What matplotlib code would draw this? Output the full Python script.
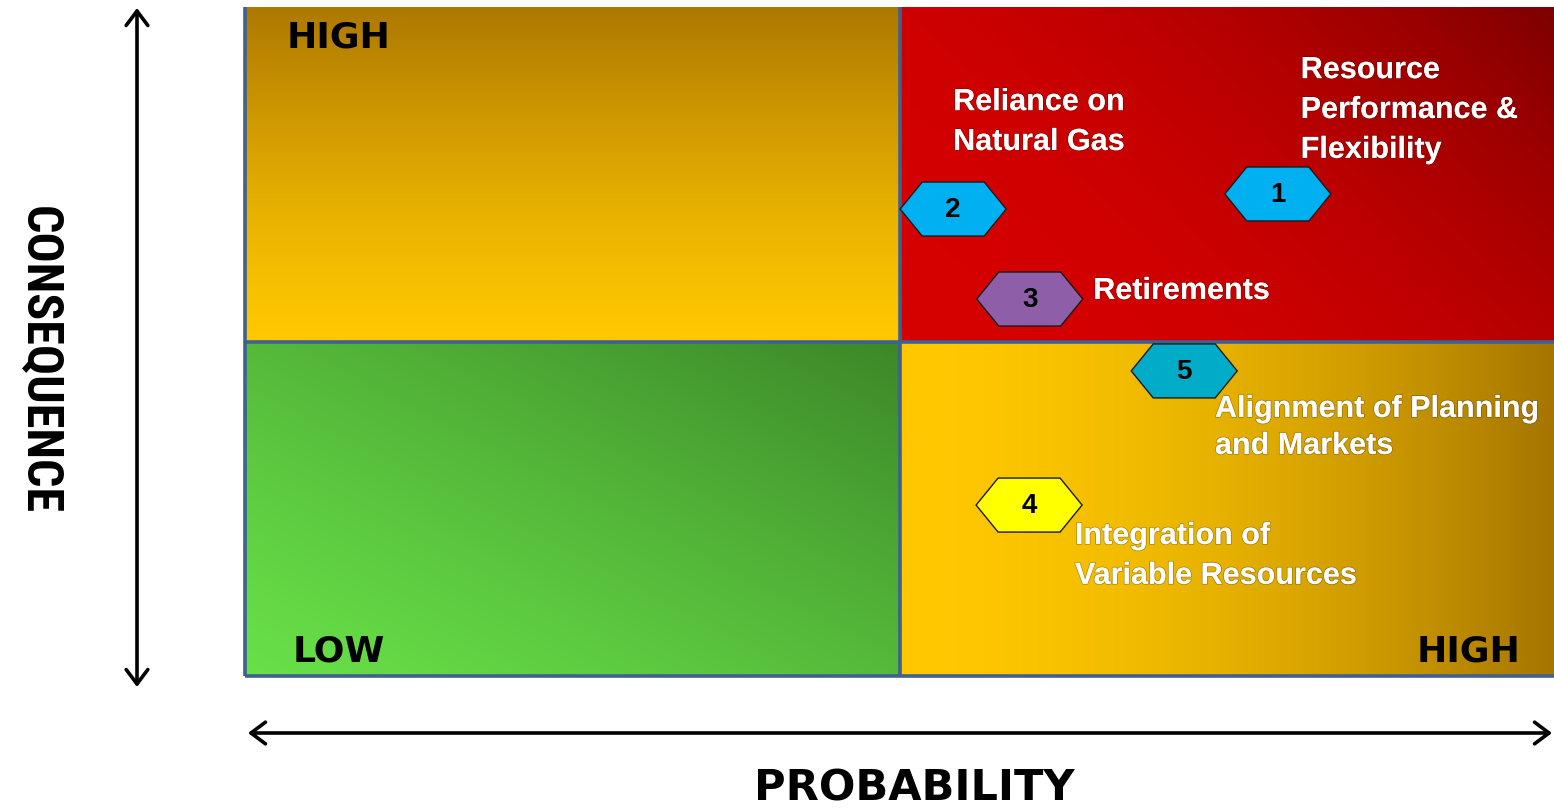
import numpy as np
import matplotlib
matplotlib.use("Agg")
import matplotlib.pyplot as plt
from matplotlib.patches import Polygon
import matplotlib.patheffects as pe

# ---------------- data ----------------
risk_ids = ["1", "2", "3", "4", "5"]
risk_names = [
    "Resource\nPerformance &\nFlexibility",
    "Reliance on\nNatural Gas",
    "Retirements",
    "Integration of\nVariable Resources",
    "Alignment of Planning\nand Markets",
]
probability = [1.578, 1.082, 1.199, 1.198, 1.435]
consequence = [1.441, 1.396, 1.127, 0.511, 0.912]
hex_colors = ["#00B0F0", "#00B0F0", "#8E5EA8", "#FFFF00", "#00ACC8"]
label_x = [1.613, 1.082, 1.296, 1.268, 1.482]
label_y = [1.692, 1.656, 1.151, 0.359, 0.743]
label_spacing = [1.43, 1.43, 1.2, 1.43, 1.3]

quadrant_labels = ["HIGH", "LOW", "HIGH"]
quadrant_label_x = [0.143, 0.143, 1.870]
quadrant_label_y = [1.913, 0.075, 0.075]

x_title = "PROBABILITY"
y_title = "CONSEQUENCE"

# ---------------- figure ----------------
W, H = 1554, 812
fig = plt.figure(figsize=(W / 100, H / 100), dpi=100)

# overlay axes in pixel coordinates (arrows + titles)
ax0 = fig.add_axes([0, 0, 1, 1])
ax0.set_xlim(0, W)
ax0.set_ylim(H, 0)
ax0.axis("off")
ax0.patch.set_alpha(0)

arrow_kw = dict(arrowstyle="<->,head_length=0.4,head_width=0.3", color="black",
                lw=2.6, shrinkA=0, shrinkB=0, mutation_scale=26)
ax0.annotate("", xy=(137, 9), xytext=(137, 688), arrowprops=arrow_kw)
ax0.annotate("", xy=(1552, 734), xytext=(248, 734), arrowprops=arrow_kw)

ax0.text(39, 360, y_title, rotation=-90, ha="center", va="center",
         fontsize=36, fontweight="bold", fontstretch="condensed",
         family=["Roboto Condensed", "Liberation Sans"])
ax0.text(914, 789, x_title, ha="center", va="center", fontsize=31,
         fontweight="bold", family="DejaVu Sans")

# main axes
left, right, top, bottom = 245, 1554, 8, 677
ax = fig.add_axes([left / W, (H - bottom) / H, (right - left) / W, (bottom - top) / H])
ax.set_xlim(0, 2)
ax.set_ylim(0, 2)
ax.axis("off")


def gradient(ax, x0, x1, y0, y1, c0, c1, tfunc, n=300):
    xs = np.linspace(0, 1, n)
    ys = np.linspace(1, 0, n)  # image row 0 = top
    xn, yn = np.meshgrid(xs, ys)
    t = np.clip(tfunc(xn, yn), 0, 1)[..., None]
    c0 = np.array(c0) / 255.0
    c1 = np.array(c1) / 255.0
    img = c0 * (1 - t) + c1 * t
    ax.imshow(img, extent=(x0, x1, y0, y1), origin="upper", aspect="auto",
              interpolation="bilinear", zorder=1)


# top-left: vertical gold gradient
gradient(ax, 0, 1, 1, 2, (255, 200, 0), (173, 120, 0), lambda x, y: y ** 1.3)
# top-right: red, darker toward top-right
gradient(ax, 1, 2, 1, 2, (214, 0, 0), (125, 0, 0),
         lambda x, y: (0.65 * x + 0.35 * y) ** 2.3)
# bottom-left: green, lighter bottom-left
gradient(ax, 0, 1, 0, 1, (104, 224, 72), (60, 135, 40),
         lambda x, y: ((x + y) / 2) ** 1.2)
# bottom-right: horizontal gold gradient
gradient(ax, 1, 2, 0, 1, (255, 200, 0), (165, 117, 0), lambda x, y: x ** 1.8)

line_c = "#3E6092"
ax.plot([0, 0], [0, 2], color=line_c, lw=2.6, zorder=3, solid_capstyle="butt", clip_on=False)
ax.plot([0, 2], [0, 0], color=line_c, lw=2.6, zorder=3, solid_capstyle="butt", clip_on=False)
ax.plot([1, 1], [0, 2], color=line_c, lw=2.6, zorder=3)
ax.plot([0, 2], [1, 1], color=line_c, lw=2.6, zorder=3)

for s, x, y in zip(quadrant_labels, quadrant_label_x, quadrant_label_y):
    ax.text(x, y, s, ha="center", va="center", fontsize=26, fontweight="bold",
            family="DejaVu Sans", color="black", zorder=5)

# hexagon geometry (data units)
hx = 53 / 654.5
hx_top = 31 / 654.5
hy = 27 / 334.5
for rid, p, c, col in zip(risk_ids, probability, consequence, hex_colors):
    verts = [(p - hx, c), (p - hx_top, c + hy), (p + hx_top, c + hy),
             (p + hx, c), (p + hx_top, c - hy), (p - hx_top, c - hy)]
    ax.add_patch(Polygon(verts, closed=True, facecolor=col, edgecolor="#1a1a1a",
                         lw=1.0, zorder=6))
    ax.text(p, c, rid, ha="center", va="center", fontsize=20, fontweight="bold",
            family="Liberation Sans", color="black", zorder=7)

for name, x, y, ls in zip(risk_names, label_x, label_y, label_spacing):
    ax.text(x, y, name, ha="left", va="center", fontsize=22, fontweight="bold",
            family="Liberation Sans", color="white", linespacing=ls, zorder=8,
            path_effects=[pe.withStroke(linewidth=1.2, foreground=(0, 0, 0, 0.25))])

fig.savefig("out.png", dpi=100)
